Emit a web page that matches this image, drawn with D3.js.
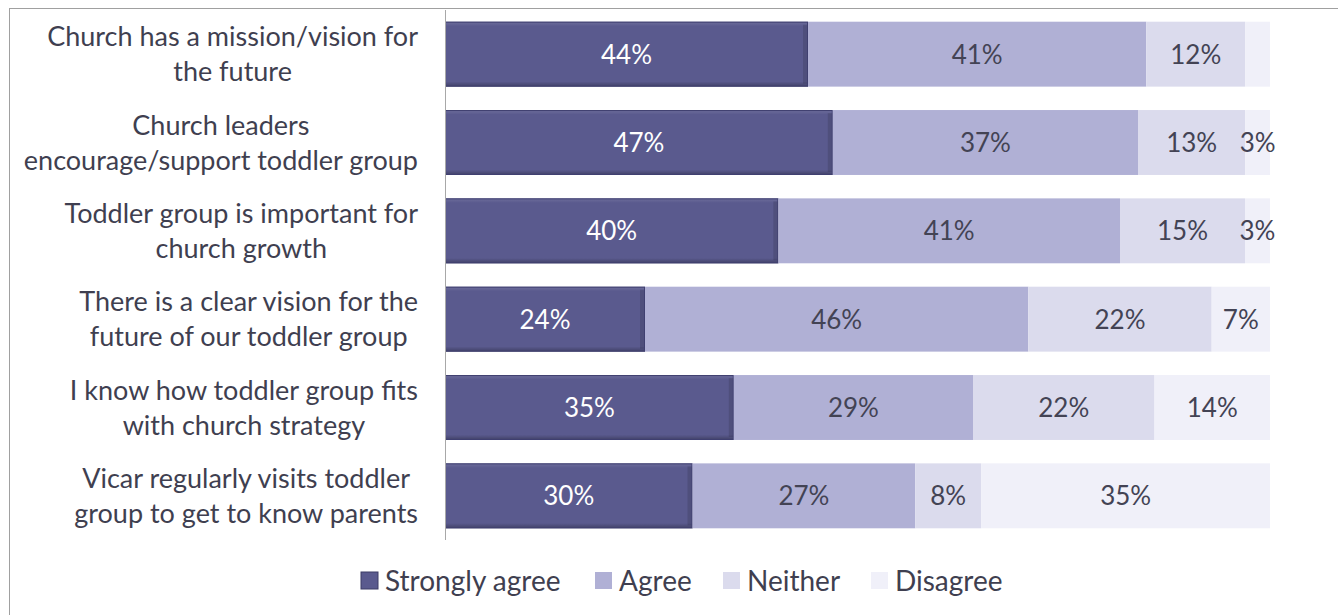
<!DOCTYPE html>
<html>
<head>
<meta charset="utf-8">
<script src="https://cdn.jsdelivr.net/npm/d3@7/dist/d3.min.js"></script>
<style>
  body { margin: 0; background: #fff; }
  svg { display: block; }
</style>
</head>
<body>
<div id="chart"></div>
<script>

// survey statements, two lines each as in the original
var categories = [
    ["Church has a mission/vision for", "the future"],
    ["Church leaders", "encourage/support toddler group"],
    ["Toddler group is important for", "church growth"],
    ["There is a clear vision for the", "future of our toddler group"],
    ["I know how toddler group fits", "with church strategy"],
    ["Vicar regularly visits toddler", "group to get to know parents"]
];

var series = ["Strongly agree", "Agree", "Neither", "Disagree"];

var stronglyAgree = [44, 47, 40, 24, 35, 30];
var agree         = [41, 37, 41, 46, 29, 27];
var neither       = [12, 13, 15, 22, 22, 8];
var disagree      = [3, 3, 3, 7, 14, 35];

// first row has no label on its disagree segment
var hiddenLabels = ["0-Disagree"];

var colors = ["#5a5a8e", "#b0b0d5", "#dbdbed", "#f0f0f9"];
var labelColors = ["#ffffff", "#434354", "#434354", "#434354"];

var W = 1338, H = 615;
var fontFam = 'Lato, "Open Sans", sans-serif';

var svg = d3.select("#chart")
    .append("svg")
    .attr("width", W)
    .attr("height", H);

// outer chart frame (runs off right and bottom edge)
svg.append("rect")
    .attr("x", 9.5).attr("y", 8.5)
    .attr("width", W + 20).attr("height", H + 20)
    .attr("fill", "none")
    .attr("stroke", "#a0a0a0")
    .attr("stroke-width", 1);

// bevel gradient for the dark series
var defs = svg.append("defs");
var gv = defs.append("linearGradient").attr("id", "bevelV")
    .attr("x1", 0).attr("y1", 0).attr("x2", 0).attr("y2", 1);
gv.append("stop").attr("offset", "0").attr("stop-color", "#ffffff").attr("stop-opacity", 0.12);
gv.append("stop").attr("offset", "0.07").attr("stop-color", "#ffffff").attr("stop-opacity", 0);
gv.append("stop").attr("offset", "0.92").attr("stop-color", "#000000").attr("stop-opacity", 0);
gv.append("stop").attr("offset", "1").attr("stop-color", "#000000").attr("stop-opacity", 0.28);

// table: one row per category
var rows = categories.map(function(c, i) {
    var vals = [stronglyAgree[i], agree[i], neither[i], disagree[i]];
    var total = d3.sum(vals);
    var acc = 0;
    var segs = vals.map(function(v, k) {
        var s = { row: i, key: series[k], k: k, value: v, x0: acc / total, x1: (acc + v) / total };
        acc += v;
        return s;
    });
    return { lines: c, segs: segs };
});

var x = d3.scaleLinear().domain([0, 1]).range([445, 1270]);
var y = d3.scaleBand()
    .domain(d3.range(categories.length))
    .range([10, 540])
    .paddingInner(0.265)
    .paddingOuter(0.1325);

var segs = svg.append("g").selectAll("g.seg")
    .data(d3.merge(rows.map(function(r) { return r.segs; })))
    .enter().append("g")
    .attr("class", "seg");

segs.append("rect")
    .attr("x", function(d) { return x(d.x0); })
    .attr("y", function(d) { return y(d.row); })
    .attr("width", function(d) { return x(d.x1) - x(d.x0); })
    .attr("height", y.bandwidth())
    .attr("fill", function(d) { return colors[d.k]; });

// bevel look on the strongly agree bars
var dark = segs.filter(function(d) { return d.k === 0; });
dark.append("rect")
    .attr("x", function(d) { return x(d.x0); })
    .attr("y", function(d) { return y(d.row); })
    .attr("width", function(d) { return x(d.x1) - x(d.x0); })
    .attr("height", y.bandwidth())
    .attr("fill", "url(#bevelV)");
dark.append("rect")
    .attr("x", function(d) { return x(d.x1) - 5; })
    .attr("y", function(d) { return y(d.row) + 3; })
    .attr("width", 5)
    .attr("height", y.bandwidth() - 6)
    .attr("fill", "#000")
    .attr("opacity", 0.12);
dark.append("rect")
    .attr("x", function(d) { return x(d.x0) + 0.5; })
    .attr("y", function(d) { return y(d.row) + 0.5; })
    .attr("width", function(d) { return x(d.x1) - x(d.x0) - 1; })
    .attr("height", y.bandwidth() - 1)
    .attr("fill", "none")
    .attr("stroke", "#404070")
    .attr("stroke-width", 1);

// value labels
segs.filter(function(d) { return hiddenLabels.indexOf(d.row + "-" + d.key) < 0; })
    .append("text")
    .attr("x", function(d) { return (x(d.x0) + x(d.x1)) / 2; })
    .attr("y", function(d) { return y(d.row) + y.bandwidth() / 2; })
    .attr("dy", "0.36em")
    .attr("text-anchor", "middle")
    .style("font-family", fontFam)
    .style("font-size", "26px")
    .style("fill", function(d) { return labelColors[d.k]; })
    .text(function(d) { return d.value + "%"; });

// category axis line
svg.append("line")
    .attr("x1", 445.5).attr("x2", 445.5)
    .attr("y1", 10).attr("y2", 540)
    .attr("stroke", "#a8a8a8")
    .attr("stroke-width", 1);

// category labels: centred block, widest line ending at x=418
var labels = svg.append("g").selectAll("g.cat")
    .data(rows)
    .enter().append("g")
    .attr("class", "cat");

labels.each(function(r, i) {
    var g = d3.select(this);
    var cy = y(i) + y.bandwidth() / 2;
    var lh = 35;
    var texts = r.lines.map(function(line, j) {
        return g.append("text")
            .attr("y", cy + (j - (r.lines.length - 1) / 2) * lh)
            .attr("dy", "0.36em")
            .attr("text-anchor", "middle")
            .style("font-family", fontFam)
            .style("font-size", "27px")
            .style("fill", "#3f3f50")
            .text(line);
    });
    var maxW = d3.max(texts, function(t) { return t.node().getComputedTextLength(); });
    texts.forEach(function(t) { t.attr("x", 418 - maxW / 2); });
});

// legend
var legendX = [361, 595, 723, 871];
var legend = svg.append("g").selectAll("g.leg")
    .data(series)
    .enter().append("g")
    .attr("class", "leg")
    .attr("transform", function(d, i) { return "translate(" + legendX[i] + ",572)"; });

legend.append("rect")
    .attr("width", 17).attr("height", 17)
    .attr("fill", function(d, i) { return colors[i]; })
    .attr("stroke", function(d, i) { return i === 0 ? "#3c3c66" : "none"; })
    .attr("stroke-width", 1);

legend.append("text")
    .attr("x", 24)
    .attr("y", 9)
    .attr("dy", "0.36em")
    .style("font-family", fontFam)
    .style("font-size", "28px")
    .style("fill", "#3f3f50")
    .text(function(d) { return d; });

</script>
</body>
</html>
